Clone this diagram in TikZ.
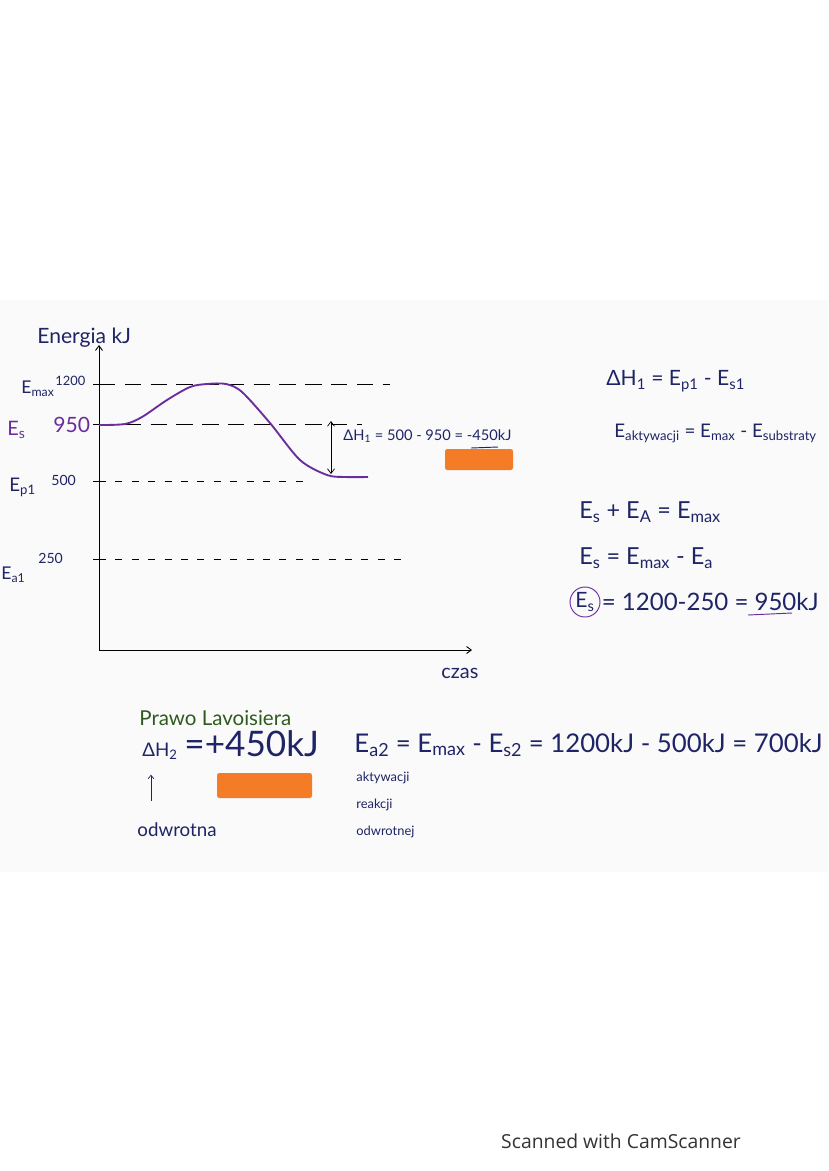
\documentclass[tikz,border=0pt]{standalone}
\usepackage{fontspec}
\setmainfont{Lato}
\newfontfamily\scanfont{Open Sans}
\usetikzlibrary{arrows.meta,positioning}
\definecolor{inkblue}{HTML}{1E2466}
\definecolor{inkpurple}{HTML}{6B2C9E}
\definecolor{inkgreen}{HTML}{2F5A1E}
\definecolor{marker}{HTML}{F57C26}
\newcommand{\lowsub}[1]{\textsubscript{#1}}
\newcommand{\fsz}[1]{\fontsize{#1}{#1}\selectfont}

\begin{document}
\begin{tikzpicture}[x=0.03cm,y=-0.03cm,
    ink/.style={text=inkblue,font=\fsz{15},inner sep=1pt},
    small/.style={ink,font=\fsz{11}},
    longdash/.style={dash pattern=on 14pt off 8pt},
    shortdash/.style={dash pattern=on 6pt off 8pt},
    barb/.style={-{Straight Barb[length=4pt,width=6pt]}}]
\useasboundingbox[fill=white] (0,0) rectangle (828,1171);
\fill[black!2] (0,300) rectangle (828,872);

% axes
\coordinate (origin) at (99,650);
\coordinate (ytop) at (99,345);
\coordinate (xend) at (472,650);
\draw[thick,barb] (origin) -- (ytop);
\draw[thick,barb] (origin) -- (xend);
\node[ink,font=\fsz{18},anchor=west] (energia) at (36,338) {Energia kJ};
\node[ink,font=\fsz{17},anchor=west] (czas) at (440,673) {czas};

% levels
\foreach \nm/\yy/\xe/\pat in {max/384/390/longdash, s/424/362/longdash, p/481/310/shortdash, a/559/403/shortdash} {
  \coordinate (tick\nm) at (99,\yy);
  \coordinate (end\nm) at (\xe,\yy);
  \draw (93,\yy) -- (105,\yy);
  \draw[\pat] (tick\nm) -- (end\nm);
}
\node[ink,anchor=west] (emax) at (20,389) {E\lowsub{max}};
\node[small,anchor=west] (vmax) at (54,381) {1200};
\node[ink,text=inkpurple,font=\fsz{17},anchor=west] (es) at (6,430) {E\lowsub{s}};
\node[ink,text=inkpurple,font=\fsz{18},anchor=west] (vs) at (52,425) {950};
\node[ink,font=\fsz{16},anchor=west] (ep) at (8,487) {E\lowsub{p1}};
\node[small,font=\fsz{12},anchor=west] (vp) at (50,480) {500};
\node[ink,anchor=west] (ea) at (0,575) {E\lowsub{a1}};
\node[small,font=\fsz{12},anchor=west] (va) at (37,558) {250};

% reaction path
\draw[inkpurple,line width=1.6pt] plot[smooth,tension=0.5] coordinates {(99,425) (125,424) (142,417) (167,400) (190,387) (207,384) (226,384) (242,392) (270,423) (300,460) (327,475) (345,477) (368,477)};

% enthalpy change
\coordinate (dtop) at (331,421);
\coordinate (dbot) at (331,474);
\draw[semithick,{Straight Barb[length=4pt,width=6pt]}-{Straight Barb[length=4pt,width=6pt]}] (dtop) -- (dbot);
\node[ink,font=\fsz{12.5},anchor=west] (dh1calc) at (342,436) {ΔH\lowsub{1} = 500 - 950 = -450kJ};
\draw[inkblue,thick] (471,448) -- (498,447);
\fill[marker,rounded corners=2pt] (445,449) rectangle (513,470);

% formulas on the right
\node[ink,font=\fsz{18},anchor=west] (dh1) at (605,381) {ΔH\lowsub{1} = E\lowsub{p1} - E\lowsub{s1}};
\node[ink,font=\fsz{16},anchor=west] (eakt) at (613,433) {E\lowsub{aktywacji} = E\lowsub{max} - E\lowsub{substraty}};
\node[ink,font=\fsz{20},anchor=west] (esum) at (578,512) {E\lowsub{s} + E\lowsub{A} = E\lowsub{max}};
\node[ink,font=\fsz{20},anchor=west] (esdiff) at (578,558) {E\lowsub{s} = E\lowsub{max} - E\lowsub{a}};
\node[ink,font=\fsz{18},draw=inkpurple,thick,circle,inner sep=1pt,minimum size=30*0.03cm] (escirc) at (585,602) {E\lowsub{s}};
\node[ink,font=\fsz{20.5},anchor=west] (esval) at (escirc.east) {= 1200-250 = 950kJ};
\draw[inkpurple,thick] (748,615) -- (792,613);

% reverse reaction
\node[ink,text=inkgreen,font=\fsz{17.5},anchor=west] (lavo) at (138,718) {Prawo Lavoisiera};
\node[ink,font=\fsz{16},anchor=west] (dh2) at (141,751) {ΔH\lowsub{2}};
\node[ink,font=\fsz{30},anchor=west] (dh2val) at (183,744) {=+450kJ};
\fill[marker,rounded corners=2pt] (217,773) rectangle (312,798);
\node[ink,font=\fsz{16},anchor=west] (odwr) at (136,830) {odwrotna};
\coordinate (arrx) at (151,0);
\draw[inkblue,semithick,-{Straight Barb[length=3pt,width=5pt]},shorten <=18pt,shorten >=12pt] (odwr.north -| arrx) -- (dh2.south -| arrx);
\node[ink,font=\fsz{22},anchor=west] (ea2) at (353,745) {E\lowsub{a2} = E\lowsub{max} - E\lowsub{s2} = 1200kJ - 500kJ = 700kJ};
\node[small,anchor=west] (akt2) at (355,778) {aktywacji};
\node[small,anchor=west] (reak) at (355,805) {reakcji};
\node[small,anchor=west] (odwr2) at (355,832) {odwrotnej};

\node[text=black!80,font=\scanfont\fsz{16.5}] (scan) at (621,1141) {Scanned with CamScanner};
\end{tikzpicture}
\end{document}
